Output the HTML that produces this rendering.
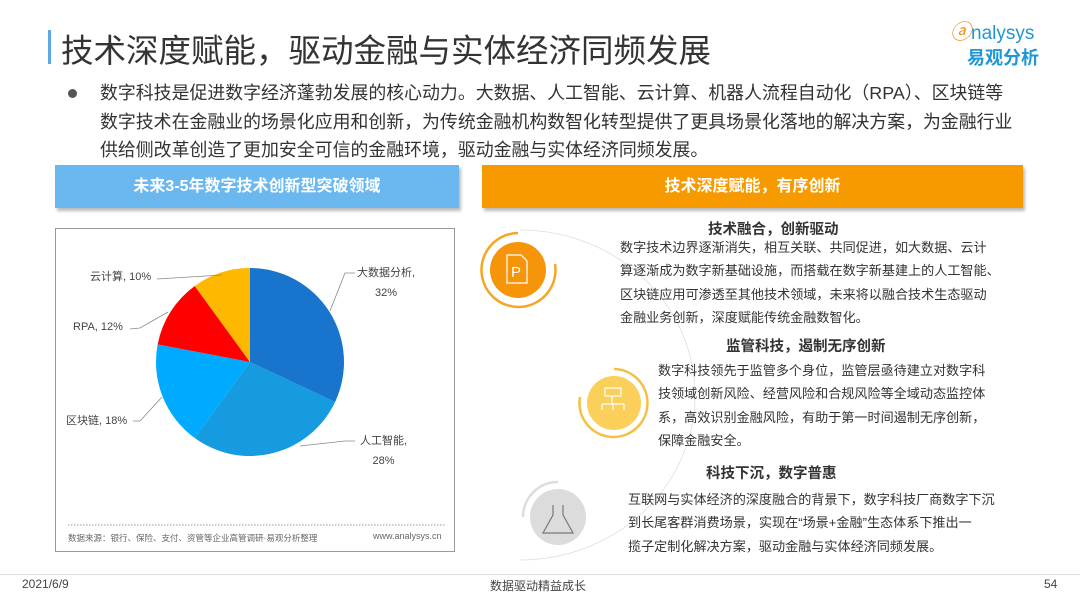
<!DOCTYPE html>
<html><head><meta charset="utf-8"><style>
*{margin:0;padding:0;box-sizing:border-box}
body{width:1080px;height:608px;background:#fff;position:relative;overflow:hidden;font-family:"Liberation Sans","Noto Sans CJK SC",sans-serif;color:#333}
.a{position:absolute;white-space:nowrap}
.p{font-size:13.1px;color:#333;line-height:23.3px}
.h{font-size:14.5px;font-weight:bold;color:#333}
</style></head><body>
<div class="a" style="left:48px;top:30px;width:3px;height:34px;background:#5aa9e6"></div>
<div class="a" style="left:61px;top:25px;font-size:32.5px;color:#333">技术深度赋能，驱动金融与实体经济同频发展</div>
<div class="a" style="left:950px;top:16px;font-size:21px;color:#f08c1e;font-style:italic">ⓐ<span style="color:#1f97d4;font-style:normal;font-size:19px">nalysys</span></div>
<div class="a" style="left:967px;top:44px;font-size:18px;color:#1f97d4;font-weight:bold">易观分析</div>
<div class="a" style="left:68px;top:89px;width:9px;height:9px;border-radius:50%;background:#555"></div>
<div class="a" style="left:100px;top:79px;font-size:17.9px;line-height:28.5px;color:#333">数字科技是促进数字经济蓬勃发展的核心动力。大数据、人工智能、云计算、机器人流程自动化（RPA）、区块链等<br>数字技术在金融业的场景化应用和创新，为传统金融机构数智化转型提供了更具场景化落地的解决方案，为金融行业<br>供给侧改革创造了更加安全可信的金融环境，驱动金融与实体经济同频发展。</div>
<div class="a" style="left:55px;top:165px;width:404px;height:43px;background:#6bb8f0;box-shadow:2px 3px 3px #bbb;color:#fff;font-size:16px;font-weight:bold;text-align:center;line-height:43px">未来3-5年数字技术创新型突破领域</div>
<div class="a" style="left:482px;top:165px;width:541px;height:43px;background:#f79a00;box-shadow:2px 3px 3px #bbb;color:#fff;font-size:16px;font-weight:bold;text-align:center;line-height:43px">技术深度赋能，有序创新</div>
<div class="a" style="left:55px;top:228px;width:400px;height:324px;border:1.5px solid #999;background:#fff"></div>
<svg class="a" style="left:0;top:0" width="1080" height="608">
<path d="M250,362 L250,268 A94,94 0 0 1 335.05,402.02 Z" fill="#1874cd"/>
<path d="M250,362 L335.05,402.02 A94,94 0 0 1 194.75,438.05 Z" fill="#169ae0"/>
<path d="M250,362 L194.75,438.05 A94,94 0 0 1 157.66,344.39 Z" fill="#00aaff"/>
<path d="M250,362 L157.66,344.39 A94,94 0 0 1 194.75,285.95 Z" fill="#ff0000"/>
<path d="M250,362 L194.75,285.95 A94,94 0 0 1 250,268 Z" fill="#ffb800"/>
<g stroke="#888" fill="none" stroke-width="0.8">
<polyline points="157,279 222,275"/>
<polyline points="130,329 140,328 168,312"/>
<polyline points="133,421 140,421 162,397"/>
<polyline points="330,311 345,273 355,273"/>
<polyline points="300,446 345,441 355,441"/>
<path d="M520,230 A175,165 0 0 1 520,560" stroke="#ddd"/>
</g>
<line x1="68" y1="525" x2="446" y2="525" stroke="#999" stroke-dasharray="1.5,1.5"/>
<circle cx="518" cy="270" r="28" fill="#f7950a"/>
<path d="M518,233 A37,37 0 1 0 555,264" stroke="#f5a623" stroke-width="2.5" fill="none"/>
<path d="M507,255 h14 l6,6 v22 h-20 z" stroke="#fff" stroke-width="1.2" fill="none"/>
<text x="511" y="277" fill="#fff" font-size="15" font-family="Liberation Sans">P</text>
<circle cx="614" cy="403" r="27" fill="#fad05a"/>
<path d="M614,369 A34,34 0 1 1 580,397" stroke="#f5c040" stroke-width="2.5" fill="none"/>
<g stroke="#fff" stroke-width="1.2" fill="none"><rect x="605" y="388" width="16" height="8"/><path d="M612,396v8M602,404h22M602,404v6M613,404v6M624,404v6"/></g>
<circle cx="558" cy="517" r="28" fill="#dcdcdc"/>
<path d="M558,482 A35,35 0 0 0 523,517" stroke="#ddd" stroke-width="2.5" fill="none"/>
<path d="M553,505v10l-10,18h30l-10,-18v-10" stroke="#777" stroke-width="1.2" fill="none"/>
</svg>
<div class="a" style="left:90px;top:268px;font-size:11px;color:#444">云计算, 10%</div>
<div class="a" style="left:73px;top:321px;font-size:11px;color:#444">RPA, 12%</div>
<div class="a" style="left:66px;top:412px;font-size:11px;color:#444">区块链, 18%</div>
<div class="a" style="left:357px;top:263px;font-size:11px;color:#444;text-align:center;line-height:20px">大数据分析,<br>32%</div>
<div class="a" style="left:360px;top:431px;font-size:11px;color:#444;text-align:center;line-height:20px">人工智能,<br>28%</div>
<div class="a" style="left:68px;top:532px;font-size:8.5px;color:#666">数据来源：银行、保险、支付、资管等企业高管调研·易观分析整理</div>
<div class="a" style="left:373px;top:531px;font-size:9px;color:#666">www.analysys.cn</div>
<div class="a h" style="left:708px;top:218px">技术融合，创新驱动</div>
<div class="a p" style="left:620px;top:236px">数字技术边界逐渐消失，相互关联、共同促进，如大数据、云计<br>算逐渐成为数字新基础设施，而搭载在数字新基建上的人工智能、<br>区块链应用可渗透至其他技术领域，未来将以融合技术生态驱动<br>金融业务创新，深度赋能传统金融数智化。</div>
<div class="a h" style="left:726px;top:335px">监管科技，遏制无序创新</div>
<div class="a p" style="left:658px;top:359px">数字科技领先于监管多个身位，监管层亟待建立对数字科<br>技领域创新风险、经营风险和合规风险等全域动态监控体<br>系，高效识别金融风险，有助于第一时间遏制无序创新，<br>保障金融安全。</div>
<div class="a h" style="left:706px;top:462px">科技下沉，数字普惠</div>
<div class="a p" style="left:628px;top:488px">互联网与实体经济的深度融合的背景下，数字科技厂商数字下沉<br>到长尾客群消费场景，实现在“场景+金融”生态体系下推出一<br>揽子定制化解决方案，驱动金融与实体经济同频发展。</div>
<div class="a" style="left:0;top:574px;width:1080px;height:1px;background:#ddd"></div>
<div class="a" style="left:22px;top:577px;font-size:12px;color:#444">2021/6/9</div>
<div class="a" style="left:490px;top:577px;font-size:12px;color:#444">数据驱动精益成长</div>
<div class="a" style="left:1044px;top:577px;font-size:12px;color:#444">54</div>
</body></html>
